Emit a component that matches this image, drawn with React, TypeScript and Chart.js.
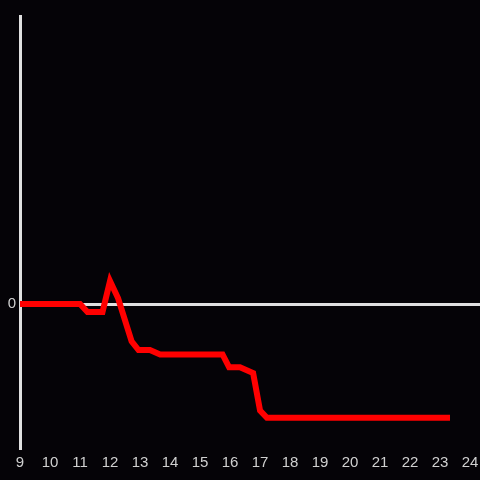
import React, { useEffect, useRef } from "react";
import { Chart, registerables } from "chart.js";

Chart.register(...registerables);

const hours = [9, 11, 11.25, 11.75, 12, 12.27, 12.72, 12.95, 13.33, 13.67, 15.75, 15.97, 16.33, 16.77, 17.0, 17.23, 23.33];
const values = [0, 0, -0.056, -0.056, 0.16, 0.04, -0.26, -0.32, -0.32, -0.35, -0.35, -0.44, -0.44, -0.48, -0.74, -0.79, -0.79];
const yTicks = [0];

export default function App() {
  const ref = useRef<HTMLCanvasElement>(null);
  useEffect(() => {
    if (!ref.current) return;
    const chart = new Chart(ref.current, {
      type: "line",
      data: {
        datasets: [
          {
            data: hours.map((h, i) => ({ x: h, y: values[i] })),
            borderColor: "#ff0000",
            borderWidth: 6,
            pointRadius: 0,
            tension: 0,
            fill: false,
          },
        ],
      },
      options: {
        animation: false,
        responsive: false,
        maintainAspectRatio: false,
        layout: { padding: { top: 16, right: 0, left: 0, bottom: 0 } },
        plugins: { legend: { display: false }, tooltip: { enabled: false } },
        scales: {
          x: {
            type: "linear",
            min: 9,
            max: 24.33,
            afterBuildTicks: (s: any) => {
              const t = [];
              for (let v = 9; v <= 24; v++) t.push({ value: v });
              s.ticks = t;
            },
            afterFit: (s: any) => {
              s.height = 32;
              s.paddingRight = 0;
              s.paddingLeft = 0;
            },
            grid: { display: false, drawTicks: false },
            border: { display: false },
            ticks: {
              color: "#d0d0d0",
              font: { family: "'Liberation Sans', Arial, sans-serif", size: 15 },
              padding: 6,
              maxRotation: 0,
              autoSkip: false,
            },
          },
          y: {
            type: "linear",
            min: -1,
            max: 2,
            afterBuildTicks: (s: any) => {
              s.ticks = yTicks.map((v) => ({ value: v }));
            },
            afterFit: (s: any) => {
              s.width = 20;
              s.paddingTop = 0;
              s.paddingBottom = 0;
            },
            grid: { color: "#e0e0e0", lineWidth: 3, drawTicks: false },
            border: { display: true, color: "#e0e0e0", width: 3 },
            ticks: {
              color: "#d0d0d0",
              font: { family: "'Liberation Sans', Arial, sans-serif", size: 15 },
              padding: 4,
            },
          },
        },
      },
    });
    return () => chart.destroy();
  }, []);
  return (
    <div style={{ position: "fixed", left: 0, top: 0, width: 480, height: 480, background: "#050307" }}>
      <canvas ref={ref} width={480} height={480} style={{ display: "block" }} />
    </div>
  );
}
